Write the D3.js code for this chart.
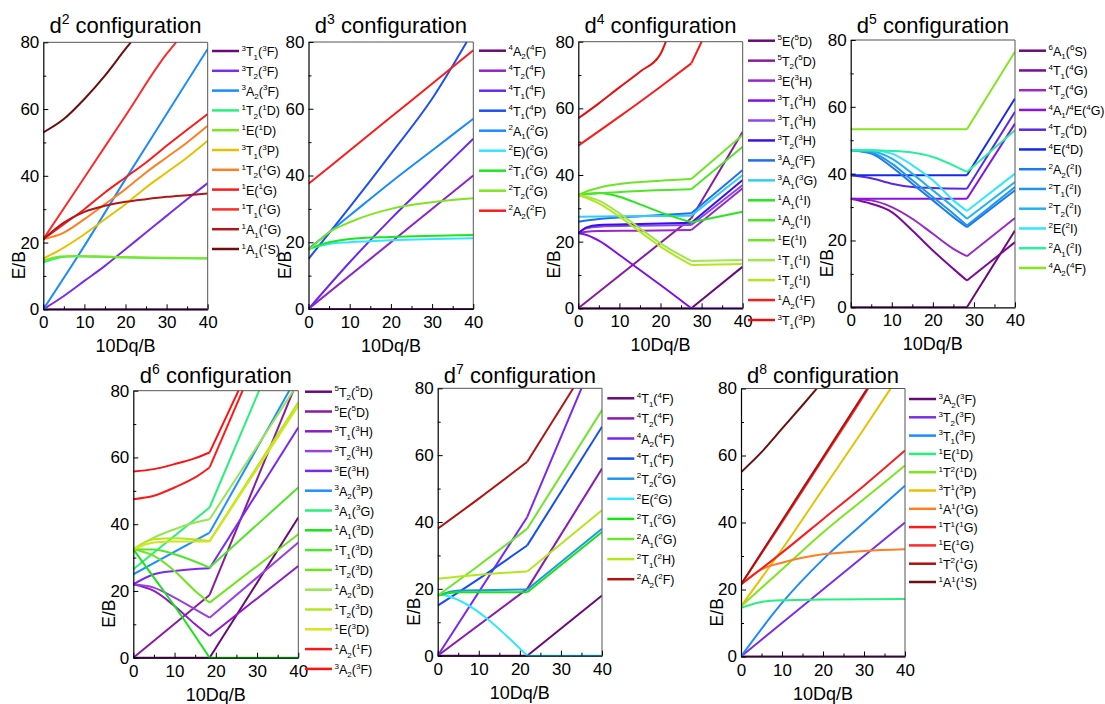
<!DOCTYPE html>
<html><head><meta charset="utf-8">
<script src="https://cdn.jsdelivr.net/npm/d3@7"></script>
<style>body{margin:0;background:#fff}svg{display:block}text{font-family:"Liberation Sans",Arial,sans-serif;fill:#000}</style>
</head><body><svg id="c" width="1105" height="704"></svg>
<script>
const xTicks=[0,10,20,30,40], yTicks=[0,20,40,60,80], xMinor=[5,15,25,35], yMinor=[10,30,50,70];
const xLabel="10Dq/B", yLabel="E/B";

// ---- d2 ----
const d2Names=["^3T_1(^3F)","^3T_2(^3F)","^3A_2(^3F)","^1T_2(^1D)","^1E(^1D)","^3T_1(^3P)","^1T_2(^1G)","^1E(^1G)","^1T_1(^1G)","^1A_1(^1G)","^1A_1(^1S)"];
const d2Colors=["#6a0a78","#7a2ee8","#1a8cff","#28f07c","#7ee61e","#e8c000","#ff7f24","#ff1a1a","#ff2a2a","#b01818","#6b0f0f"];
const d2Series=[
 [[0,0],[40,0]],
 [[0,0],[5,4],[10,8.5],[15,13],[20,18],[25,23],[30,28],[35,33],[40,37.8]],
 [[0,0],[10,19],[20,39],[30,58.5],[40,78]],
 [[0,14],[3,15.2],[6,15.8],[10,15.8],[20,15.5],[30,15.3],[40,15.2]],
 [[0,14.6],[4,15.8],[8,16],[15,15.8],[25,15.5],[40,15.3]],
 [[0,15.2],[5,18.5],[10,22.5],[15,27],[20,31.5],[25,36.5],[30,41],[35,45.5],[40,50.5]],
 [[0,21],[5,23],[10,27],[15,31.5],[20,36],[25,41],[30,45.5],[35,50],[40,55]],
 [[0,21],[5,25.5],[10,30],[15,35],[20,39.5],[25,44],[30,49],[35,53.8],[40,58.5]],
 [[0,21],[10,39.5],[20,58],[30,76.5],[32.3,80]],
 [[0,21],[5,26],[10,29.2],[15,31],[20,32.2],[25,33],[30,33.7],[35,34.2],[40,34.7]],
 [[0,53],[5,57],[10,63],[15,70],[20,78],[21.3,80]]
];

// ---- d3 ----
const d3Names=["^4A_2(^4F)","^4T_2(^4F)","^4T_1(^4F)","^4T_1(^4P)","^2A_1(^2G)","^2E)(^2G)","^2T_1(^2G)","^2T_2(^2G)","^2A_2(^2F)"];
const d3Colors=["#6a0a78","#8e24c8","#6a28f0","#1e50f0","#1a8cff","#33e6ff","#1ee61e","#7ee61e","#ff1a1a"];
const d3Series=[
 [[0,0],[40,0]],
 [[0,0],[40,40]],
 [[0,0],[10,14],[20,27],[30,39],[40,51]],
 [[0,15],[10,30.5],[20,46.5],[30,63],[38.4,80]],
 [[0,18],[10,28],[20,38],[30,47.5],[40,57]],
 [[0,18],[5,19.5],[10,20],[20,20.6],[40,21.2]],
 [[0,18],[5,20],[10,21],[20,21.6],[40,22.2]],
 [[0,17.5],[5,23],[10,26],[20,30],[30,32],[40,33.2]],
 [[0,37.5],[10,47.5],[20,57.5],[30,67.5],[40,77.5]]
];

// ---- d4 ----
const d4Names=["^5E(^5D)","^5T_2(^5D)","^3E(^3H)","^3T_1(^3H)","^3T_1(^3H)","^3T_2(^3H)","^3A_2(^3F)","^3A_1(^3G)","^1A_1(^1I)","^1A_2(^1I)","^1E(^1I)","^1T_1(^1I)","^1T_2(^1I)","^1A_2(^1F)","^3T_1(^3P)"];
const d4Colors=["#6a0a78","#8a1aa0","#9a28c8","#8010e6","#8a46f0","#3a10e6","#1e6ef0","#33ccf5","#28e61e","#50e628","#6ee628","#a0e650","#b4e61e","#ff1a1a","#e61010"];
const d4Series=[
 [[0,0],[27.5,0],[40,12.5]],
 [[0,0],[27.5,27],[40,53]],
 [[0,22.5],[2,23],[5,23.2],[15,23.3],[27.5,23.5],[40,36]],
 [[0,22.5],[2,22],[5,20.3],[10,16],[15,11.5],[20,7],[27.5,0],[40,0]],
 [[0,22.5],[2,24],[5,24.5],[15,24.8],[27.5,25],[40,37]],
 [[0,22.5],[2,24.3],[5,25],[15,25.3],[27.5,25.7],[40,38.5]],
 [[0,26],[5,26.8],[15,27.6],[27.5,28.5],[40,41.5]],
 [[0,27.5],[10,27.6],[27.5,27.8],[40,40]],
 [[0,34],[5,34.6],[10,33.5],[15,31.2],[20,28.8],[27.5,25.8],[40,29]],
 [[0,34],[5,34.5],[15,35.2],[27.5,35.7],[40,48.5]],
 [[0,34],[3,35.5],[6,36.5],[10,37.3],[20,38.3],[27.5,38.8],[40,52]],
 [[0,34],[5,32.3],[10,28.5],[15,24],[20,19.5],[27.5,14.2],[40,14.5]],
 [[0,34],[5,31.5],[10,27.5],[15,23],[20,18.5],[27.5,13],[40,13.3]],
 [[0,48.8],[10,57.5],[20,66.5],[27.5,73.5],[30,80]],
 [[0,57],[5,61.5],[10,66.3],[15,71],[20,76.3],[21.3,80]]
];

// ---- d5 ----
const d5Names=["^6A_1(^6S)","^4T_1(^4G)","^4T_2(^4G)","^4A_1/^4E(^4G)","^4T_2(^4D)","^4E(^4D)","^2A_2(^2I)","^2T_1(^2I)","^2T_2(^2I)","^2E(^2I)","^2A_1(^2I)","^4A_2(^4F)"];
const d5Colors=["#6a0a78","#7a0a9a","#9a28c8","#8a10e6","#5a28e6","#1428f0","#1e78f0","#1e96f0","#1eb4f0","#33e6ff","#28f0a0","#80e61e"];
const d5Series=[
 [[0,0],[28.3,0],[40,23]],
 [[0,32.5],[5,31],[10,28.5],[15,23],[20,17],[25,11.5],[28.3,8],[40,19.5]],
 [[0,32.5],[5,32],[10,30],[15,26.5],[20,22],[25,17.5],[28.3,15.3],[40,26.7]],
 [[0,32.5],[28.3,32.5],[40,55]],
 [[0,39.5],[5,38.6],[10,37],[15,36],[20,35.7],[28.3,35.5],[40,58.5]],
 [[0,39.5],[28.3,39.5],[40,62.5]],
 [[0,47],[5,46],[10,42],[15,37],[20,32],[25,27],[28.3,24],[40,35]],
 [[0,47],[5,46.3],[10,43],[15,38],[20,33],[25,28],[28.3,24.5],[40,36]],
 [[0,47],[5,46.7],[10,44.5],[15,40],[20,35],[25,30],[28.3,26.5],[40,37.5]],
 [[0,47],[5,47],[10,46],[15,42.5],[20,38],[25,32],[28.3,28.8],[40,40]],
 [[0,47],[5,47],[10,46.8],[15,46.3],[20,45],[25,42.5],[28.3,40.5],[40,53]],
 [[0,53.3],[28.3,53.3],[40,76.5]]
];

// ---- d6 ----
const d6Names=["^5T_2(^5D)","^5E(^5D)","^3T_1(^3H)","^3T_2(^3H)","^3E(^3H)","^3A_2(^3P)","^3A_1(^3G)","^1A_1(^3D)","^1T_1(^3D)","^1T_2(^3D)","^1A_2(^3D)","^1T_2(^3D)","^1E(^3D)","^1A_2(^1F)","^3A_2(^3F)"];
const d6Colors=["#6a0a78","#8a1aa0","#8e1ac8","#9a40e0","#7a28f0","#1e90ff","#28f078","#14e614","#50e628","#6ee61e","#96e650","#b4e61e","#d2e61e","#ff1a1a","#ff1010"];
const d6Series=[
 [[0,0],[18.5,0],[40,42]],
 [[0,0],[18.5,18.8],[38.8,80]],
 [[0,22],[5,20],[10,15.5],[15,10],[18.5,6.5],[40,27.5]],
 [[0,22],[5,21],[10,18],[15,14.5],[18.5,12],[40,34.5]],
 [[0,22],[5,25],[10,26],[18.5,26.8],[40,69]],
 [[0,25],[18.5,37.5],[37.8,80]],
 [[0,26.5],[18.5,45],[30.5,80]],
 [[0,32.5],[5,24],[10,15.5],[18.5,0],[40,0]],
 [[0,32.5],[5,32.4],[10,31],[18.5,27],[40,51]],
 [[0,32.5],[5,30.5],[10,26],[15,20],[18.5,16.5],[40,37]],
 [[0,32.5],[5,36],[10,38.5],[15,40.5],[18.5,41.5],[38.8,80]],
 [[0,32.5],[5,35.5],[10,35.8],[18.5,35],[40,76.5]],
 [[0,32.5],[5,34.5],[10,34.8],[18.5,34.8],[40,75.5]],
 [[0,47.5],[5,48.5],[10,51],[15,54],[18.5,57],[26.5,80]],
 [[0,55.8],[5,56.5],[10,58],[15,59.8],[18.5,61.5],[25.5,80]]
];

// ---- d7 ----
const d7Names=["^4T_1(^4F)","^4T_2(^4F)","^4A_2(^4F)","^4T_1(^4F)","^2T_2(^2G)","^2E(^2G)","^2T_1(^2G)","^2A_1(^2G)","^2T_1(^2H)","^2A_2(^2F)"];
const d7Colors=["#6a0a78","#8a1ab0","#7a28f0","#1450f0","#1e96f0","#33e6ff","#14e614","#6ee628","#b4e61e","#b01414"];
const d7Series=[
 [[0,0],[21.8,0],[40,18]],
 [[0,0],[21.8,20],[40,56]],
 [[0,0],[21.8,41.5],[35,80]],
 [[0,15],[10,23],[21.8,33],[40,68.5]],
 [[0,18],[5,19.5],[21.8,19.8],[40,38]],
 [[0,18.5],[2,18],[21.8,0],[40,0]],
 [[0,18],[5,19],[21.8,19],[40,37]],
 [[0,18],[10,27],[21.8,38],[40,73.5]],
 [[0,23],[10,24.2],[21.8,25.2],[40,43.5]],
 [[0,38],[10,47],[21.8,58],[33,80]]
];

// ---- d8 ----
const d8Names=["^3A_2(^3F)","^3T_2(^3F)","^3T_1(^3F)","^1E(^1D)","^1T^2(^1D)","^3T^1(^3P)","^1A^1(^1G)","^1T^1(^1G)","^1E(^1G)","^1T^2(^1G)","^1A^1(^1S)"];
const d8Colors=["#6a0a78","#7a2ee8","#1a8cff","#28f07c","#7ee61e","#e8c000","#ff7f24","#ff1a1a","#ff2a2a","#b01010","#6b0f0f"];
const d8Series=[
 [[0,0],[40,0]],
 [[0,0],[10,10],[20,20],[30,30],[40,40]],
 [[0,0],[10,16],[20,29],[30,40],[40,51]],
 [[0,14.5],[5,16.3],[10,16.8],[20,17],[40,17.2]],
 [[0,15],[10,26],[20,37],[30,47],[40,57]],
 [[0,15],[10,32],[20,50],[30,68],[36.5,80]],
 [[0,21.5],[5,26],[10,28],[20,30.5],[30,31.5],[40,32]],
 [[0,21.5],[10,31],[20,41],[30,51],[40,61.5]],
 [[0,21.5],[10,40],[20,59],[30,78],[31,80]],
 [[0,21.5],[10,40.5],[20,59.5],[30,78.5],[30.8,80]],
 [[0,55],[5,61],[10,68],[15,75],[18.5,80]]
];

const panels=[
 {title:"d^2 configuration",names:d2Names,colors:d2Colors,series:d2Series,kink:null,box:[43.3,207.7,42.3,309.3],leg:[212,51,19.8],ty:33},
 {title:"d^3 configuration",names:d3Names,colors:d3Colors,series:d3Series,kink:null,box:[308.5,473.3,42,309],leg:[479,50.7,20],ty:33},
 {title:"d^4 configuration",names:d4Names,colors:d4Colors,series:d4Series,kink:27.5,box:[578.3,742.7,41.7,308.3],leg:[748,40.7,19.95],ty:33},
 {title:"d^5 configuration",names:d5Names,colors:d5Colors,series:d5Series,kink:28.3,box:[850.7,1015,40,307.3],leg:[1019,50.7,19.75],ty:33},
 {title:"d^6 configuration",names:d6Names,colors:d6Colors,series:d6Series,kink:18.5,box:[133.3,298.3,390.7,657.7],leg:[305,391.7,19.8],ty:383},
 {title:"d^7 configuration",names:d7Names,colors:d7Colors,series:d7Series,kink:21.8,box:[437.7,602,388.3,655.7],leg:[607.3,398.3,20.1],ty:383},
 {title:"d^8 configuration",names:d8Names,colors:d8Colors,series:d8Series,kink:null,box:[741,905,388.5,656.5],leg:[909,399,18.3],ty:383}
];

const svg=d3.select("#c");

function rich(textSel,str,size,small){
  const parts=[];
  for(let i=0;i<str.length;i++){
    const ch=str[i];
    if(ch==="^"){parts.push({t:str[++i],k:"sup"});}
    else if(ch==="_"){parts.push({t:str[++i],k:"sub"});}
    else{
      if(parts.length&&parts[parts.length-1].k==="n")parts[parts.length-1].t+=ch;
      else parts.push({t:ch,k:"n"});
    }
  }
  let shift=0;
  parts.forEach(p=>{
    const target=p.k==="sup"?-0.42*size:p.k==="sub"?0.28*size:0;
    textSel.append("tspan").attr("dy",(target-shift).toFixed(2)).attr("font-size",p.k==="n"?size:small).text(p.t);
    shift=target;
  });
}

panels.forEach((p,pi)=>{
  const [x0,x1,top,bot]=p.box;
  const x=d3.scaleLinear().domain([0,40]).range([x0,x1]);
  const y=d3.scaleLinear().domain([0,80]).range([bot,top]);
  const g=svg.append("g");
  const cid="clip"+pi;
  g.append("clipPath").attr("id",cid).append("rect").attr("x",x0).attr("y",top-1).attr("width",x1-x0).attr("height",bot-top+2);

  const line=d3.line().x(d=>x(d[0])).y(d=>y(d[1])).curve(d3.curveMonotoneX);
  const lg=g.append("g").attr("clip-path",`url(#${cid})`);
  p.series.forEach((s,i)=>{
    let pieces=[s];
    if(p.kink!==null){
      const a=s.filter(d=>d[0]<=p.kink), b=s.filter(d=>d[0]>=p.kink);
      pieces=[a,b].filter(q=>q.length>1);
    }
    pieces.forEach(q=>{
      lg.append("path").attr("d",line(q)).attr("fill","none").attr("stroke",p.colors[i]).attr("stroke-width",2).attr("stroke-linejoin","round");
    });
  });

  g.append("line").attr("x1",x0).attr("x2",x1).attr("y1",top).attr("y2",top).attr("stroke","#555").attr("stroke-width",1);
  g.append("line").attr("x1",x1).attr("x2",x1).attr("y1",top).attr("y2",bot).attr("stroke","#555").attr("stroke-width",1);

  const ax=g.append("g").attr("transform",`translate(0,${bot})`).call(d3.axisBottom(x).tickValues(xTicks).tickSize(-5).tickSizeOuter(0).tickPadding(7).tickFormat(d3.format("d")));
  const axm=g.append("g").attr("transform",`translate(0,${bot})`).call(d3.axisBottom(x).tickValues(xMinor).tickSize(-3).tickFormat(""));
  axm.select(".domain").remove();
  const ay=g.append("g").attr("transform",`translate(${x0},0)`).call(d3.axisLeft(y).tickValues(yTicks).tickSize(-5).tickSizeOuter(0).tickPadding(4).tickFormat(d3.format("d")));
  const aym=g.append("g").attr("transform",`translate(${x0},0)`).call(d3.axisLeft(y).tickValues(yMinor).tickSize(-3).tickFormat(""));
  aym.select(".domain").remove();
  [ax,ay].forEach(a=>{a.selectAll("text").attr("font-size",17);a.attr("font-family",null);a.select(".domain").attr("stroke-width",1.2);});
  [axm,aym].forEach(a=>a.attr("font-family",null));
  [ax,ay,axm,aym].forEach(a=>a.selectAll(".tick line").attr("stroke","#000"));

  g.append("text").attr("x",(x0+x1)/2).attr("y",bot+43).attr("text-anchor","middle").attr("font-size",18).text(xLabel);
  g.append("text").attr("transform",`translate(${x0-18},${top+0.835*(bot-top)}) rotate(-90)`).attr("text-anchor","middle").attr("font-size",17.5).text(yLabel);

  const t=g.append("text").attr("x",(x0+x1)/2).attr("y",p.ty).attr("text-anchor","middle").attr("font-size",22);
  rich(t,p.title,22,14);

  const [lx,ly,ldy]=p.leg;
  p.names.forEach((n,i)=>{
    const yy=ly+i*ldy;
    g.append("line").attr("x1",lx).attr("x2",lx+27).attr("y1",yy).attr("y2",yy).attr("stroke",p.colors[i]).attr("stroke-width",2.5);
    const tt=g.append("text").attr("x",lx+29.5).attr("y",yy+5).attr("font-size",12.5);
    rich(tt,n,12.5,8);
  });
});
</script></body></html>
